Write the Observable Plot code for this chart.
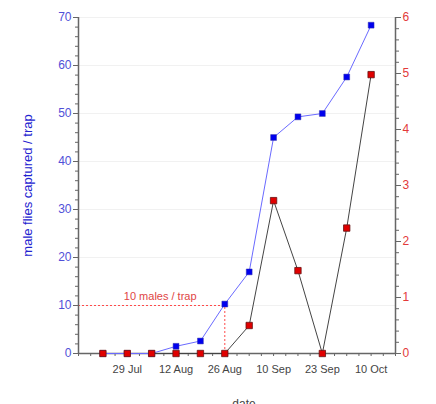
<!DOCTYPE html>
<html><head><meta charset="utf-8">
<script src="https://cdn.jsdelivr.net/npm/d3@7"></script>
<script src="https://cdn.jsdelivr.net/npm/@observablehq/plot@0.6"></script>
<style>body{margin:0;background:#fff;font-family:"Liberation Sans",Arial,sans-serif}</style>
</head><body><div id="chart"></div>
<script>
// week index of each sample (weekly traps)
const weeks = [0,1,2,3,4,5,6,7,8,9,10,11];
// male flies captured / trap (left axis)
const males = [0,0,0,1.5,2.6,10.3,17,45,49.3,50,57.6,68.4];
// right-axis series
const females = [0,0,0,0,0,0,0.5,2.73,1.48,0,2.24,4.98];
// x tick labels
const tickWeeks = [1,3,5,7,9,11];
const tickLabels = ["29 Jul","12 Aug","26 Aug","10 Sep","23 Sep","10 Oct"];
// annotation
const threshold = 10;
const thresholdWeek = 5;
const thresholdLabel = "10 males / trap";

const leftMax = 70, rightMax = 6, k = leftMax / rightMax;
const maleData = weeks.map((w,i)=>({w, v: males[i]}));
const femData = weeks.map((w,i)=>({w, v: females[i]*k}));

const blueTxt = "#5050d8", redTxt = "#e33a3a", axisCol = "#666";

const chart = Plot.plot({
  width: 436, height: 404,
  marginLeft: 78, marginRight: 41, marginTop: 17, marginBottom: 51,
  style: {fontFamily: "Liberation Sans, Arial, sans-serif", fontSize: "11px", background: "#fff"},
  x: {domain: [-1, 12], axis: null},
  y: {domain: [0, leftMax], axis: null},
  marks: [
    Plot.gridY(d3.range(10, 71, 10), {stroke: "#e8e8e8", strokeOpacity: 0.6}),
    // annotation
    Plot.ruleY([threshold], {x1: -1, x2: thresholdWeek, stroke: "#ff4a4a", strokeDasharray: "2,2", strokeWidth: 1}),
    Plot.ruleX([thresholdWeek], {y1: 0, y2: threshold, stroke: "#ff4a4a", strokeDasharray: "2,2", strokeWidth: 1}),
    Plot.text([thresholdLabel], {x: 2.35, y: threshold, dy: -9, text: d => d, fill: "#e04545", fontSize: 11}),
    // axes lines
    Plot.ruleX([-1], {y1: 0, y2: leftMax, stroke: axisCol, strokeWidth: 1.5}),
    Plot.ruleX([12], {y1: 0, y2: leftMax, stroke: axisCol, strokeWidth: 1.5}),
    Plot.ruleY([0], {x1: -1, x2: 12, stroke: axisCol, strokeWidth: 1.5}),
    // left axis
    Plot.axisY(d3.range(0, 71, 10), {anchor: "left", tickSize: 5, tickPadding: 2, stroke: axisCol, fill: blueTxt, fontSize: 12, label: null}),
    Plot.axisY(d3.range(0, 71, 2), {anchor: "left", tickSize: 3, text: null, stroke: axisCol, label: null}),
    Plot.text(["male flies captured / trap"], {frameAnchor: "left", textAnchor: "middle", dx: -51, rotate: -90, text: d => d, fill: "#2323d0", fontSize: 13}),
    // right axis
    Plot.axisY(d3.range(0, rightMax + 1).map(v => v * k), {anchor: "right", tickSize: 5, tickPadding: 2, stroke: axisCol, fill: redTxt, fontSize: 12, tickFormat: d => Math.round(d / k), label: null}),
    Plot.axisY(d3.range(0, rightMax * 5 + 1).map(v => v * 0.2 * k), {anchor: "right", tickSize: 3, text: null, stroke: axisCol, label: null}),
    // x axis
    Plot.axisX(d3.range(-1, 12.01, 0.5), {anchor: "bottom", tickSize: 3, text: null, stroke: axisCol, label: null}),
    Plot.text(tickWeeks, {x: d => d, y: 0, dy: 16, text: (d, i) => tickLabels[i], fill: "#444", fontSize: 11}),
    Plot.text(["date"], {frameAnchor: "bottom", lineAnchor: "top", dy: 46, dx: 7, text: d => d, fill: "#444", fontSize: 12}),
    // series
    Plot.line(femData, {x: "w", y: "v", stroke: "#444", strokeWidth: 1}),
    Plot.line(maleData, {x: "w", y: "v", stroke: "#6a6aff", strokeWidth: 1}),
    Plot.dot(maleData, {x: "w", y: "v", symbol: "square", r: 3.3, fill: "#0000ee", stroke: "#3333aa", strokeWidth: 0.5}),
    Plot.dot(femData, {x: "w", y: "v", symbol: "square", r: 3.6, fill: "#e00000", stroke: "#661111", strokeWidth: 0.8})
  ]
});
document.getElementById("chart").appendChild(chart);
</script></body></html>
